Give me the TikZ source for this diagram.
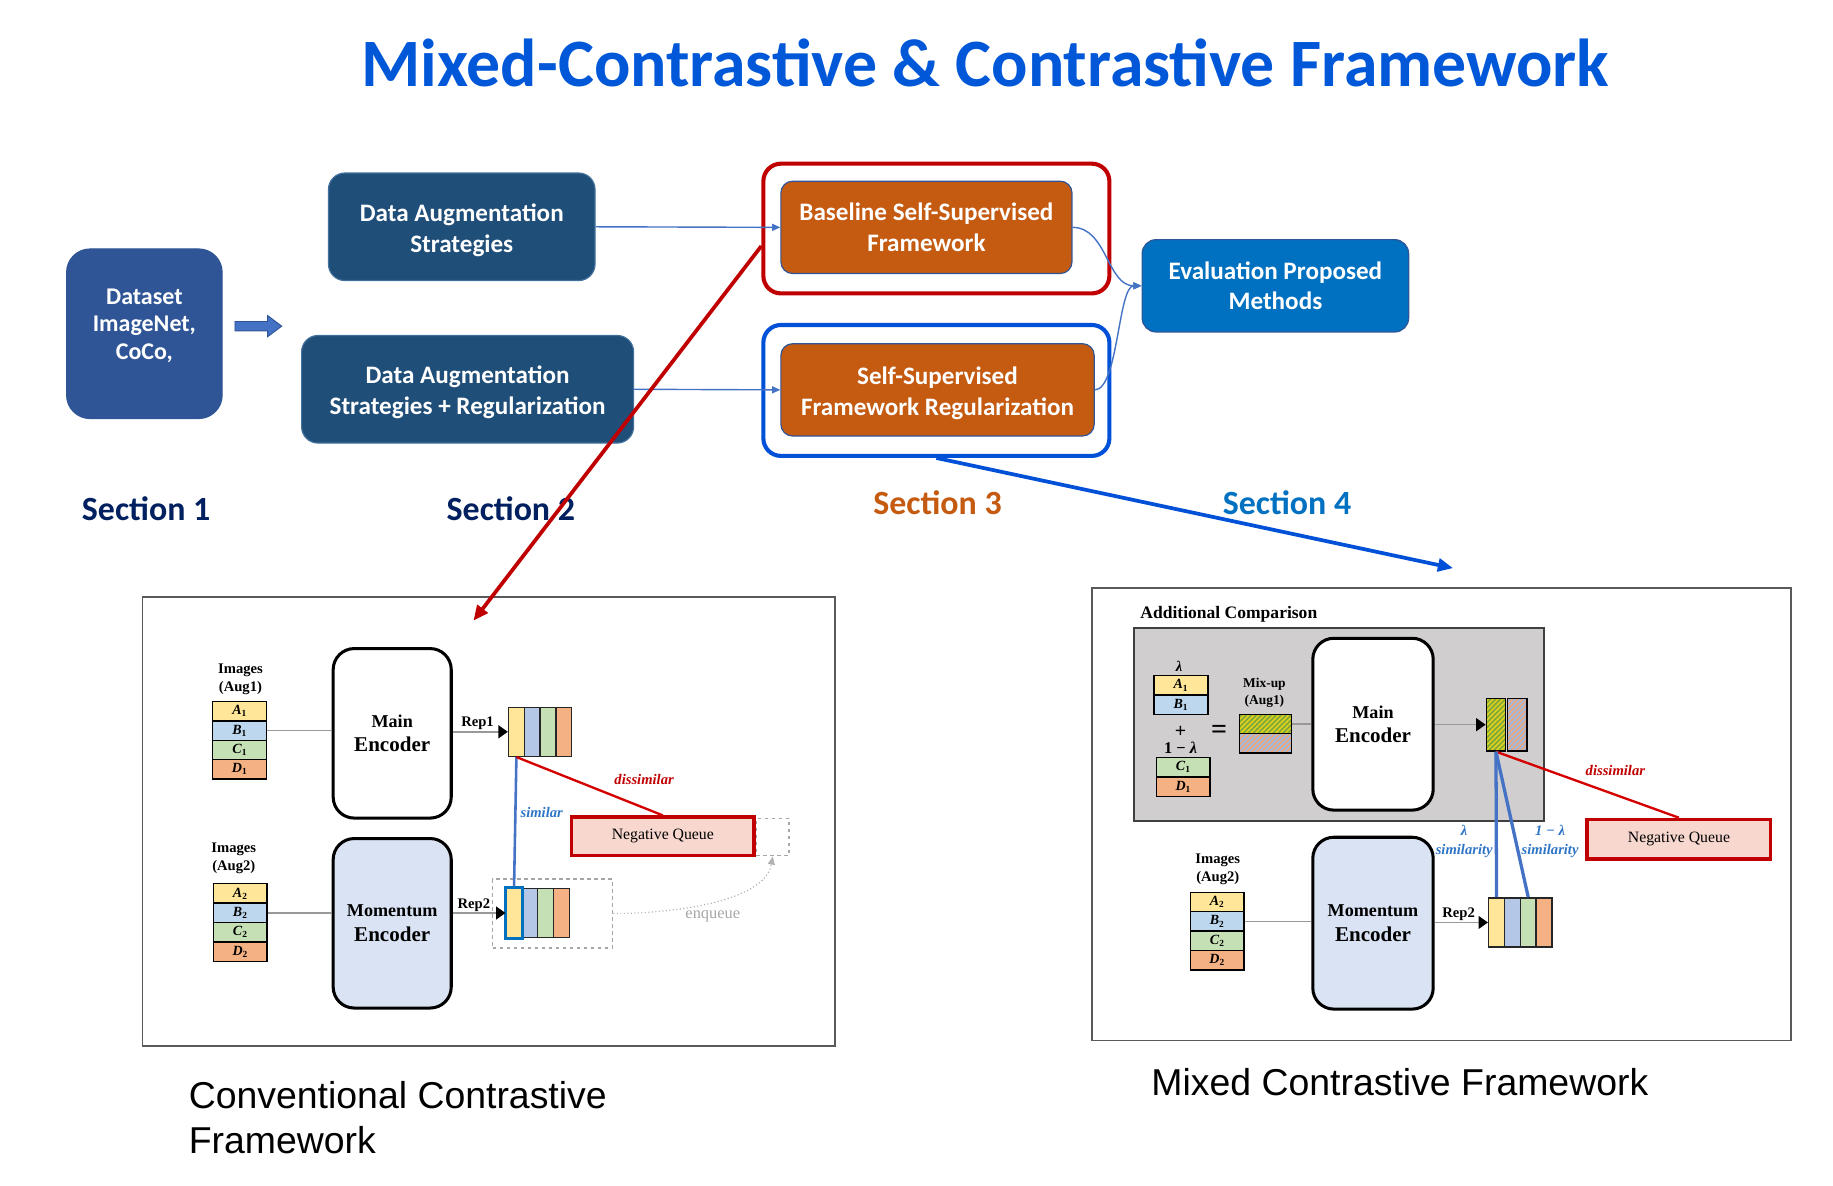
\documentclass[tikz,border=0pt]{standalone}
\usepackage{fontspec}
\usepackage{tikz}
\usetikzlibrary{arrows.meta,patterns.meta,positioning}
\newfontfamily\calib{Carlito}
\newfontfamily\timesf{Liberation Serif}
\newfontfamily\arialf{Liberation Sans}
\definecolor{titleblue}{HTML}{0057D8}
\definecolor{datasetblue}{HTML}{2F5597}
\definecolor{danavy}{HTML}{1F4E79}
\definecolor{boxline}{HTML}{41719C}
\definecolor{boxorange}{HTML}{C55A11}
\definecolor{evalblue}{HTML}{0070C0}
\definecolor{secnavy}{HTML}{002060}
\definecolor{framered}{HTML}{C00000}
\definecolor{frameblue}{HTML}{0050D8}
\definecolor{linkblue}{HTML}{4472C4}
\definecolor{simblue}{HTML}{2E75C6}
\definecolor{disred}{HTML}{D40000}
\definecolor{cellyellow}{HTML}{FFE699}
\definecolor{cellblue}{HTML}{BDD7EE}
\definecolor{vecblue}{HTML}{B4C7E7}
\definecolor{cellgreen}{HTML}{C5E0B4}
\definecolor{cellorange}{HTML}{F4B183}
\definecolor{momblue}{HTML}{DAE3F3}
\definecolor{negpink}{HTML}{F8D7CF}
\definecolor{panelgray}{HTML}{D0CECE}
\definecolor{hatchgreen}{HTML}{7FA83A}
\definecolor{hatchyellow}{HTML}{E3D21C}
\definecolor{hatchblue}{HTML}{9FB8E0}
\definecolor{hatchorange}{HTML}{F0A878}
\newcommand{\boxfont}{\calib\bfseries\fontsize{21.5}{26.3}\selectfont}
\newcommand{\secfont}{\calib\bfseries\fontsize{29}{34}\selectfont}
\newcommand{\capfont}{\arialf\fontsize{32}{38}\selectfont}
\newcommand{\encfont}{\timesf\bfseries\fontsize{18}{21}\selectfont}
\newcommand{\encsmall}{\fontsize{15.5}{21}\selectfont}
\newcommand{\figfont}{\timesf\bfseries\fontsize{12.5}{15.7}\selectfont}
\newcommand{\tstrut}{\rule{0pt}{20.5pt}}
% stack of image cells: name, x, top y, subscript, letter/colour list
\newcommand{\cellstack}[5]{%
  \foreach \lt/\col [count=\i] in {#5}{
    \node[imgcell, fill=\col] (#1\lt) at (#2, {#3+(\i-0.5)*16.6}) {\textit{\lt}\textsubscript{#4}};
  }}
% representation vector: name, left x, centre y, colour list, strip width
\newcommand{\repvec}[5]{%
  \foreach \col [count=\i] in {#4}{
    \node[vecstrip, fill=\col, minimum width=#5pt] (#1\i) at ({#2+(\i-0.5)*#5}, #3) {};
  }}

\begin{document}
\begin{tikzpicture}[x=1pt,y=-1pt,
  navybox/.style={rounded corners=14pt, fill=danavy, draw=boxline, line width=1pt, text=white, font=\boxfont, align=center},
  orangebox/.style={rounded corners=10pt, fill=boxorange, draw=datasetblue, line width=1pt, text=white, font=\boxfont, align=center, minimum height=79pt},
  outline/.style={rounded corners=15pt, line width=3.5pt, minimum width=296pt, minimum height=111pt},
  seclabel/.style={font=\secfont},
  thinlink/.style={draw=linkblue, line width=1.2pt, -{Triangle[length=7pt,width=6pt]}},
  bigarrow/.style={line width=3.2pt, -{Triangle[length=13pt,width=11pt]}},
  figframe/.style={draw=black!65, line width=1.5pt},
  figlabel/.style={font=\figfont, align=center},
  imgcell/.style={draw=black, line width=1.2pt, minimum width=46pt, minimum height=16.6pt, inner sep=0pt, font=\timesf\bfseries\fontsize{12}{14}\selectfont},
  vecstrip/.style={draw=black!85, line width=1.2pt, minimum height=42pt, inner sep=0pt},
  encoder/.style={draw=black, line width=2.6pt, rounded corners=18pt, minimum width=101pt, minimum height=145pt, font=\encfont, align=center},
  feedline/.style={draw=black!40, line width=1.2pt},
  reparrow/.style={feedline, -{Triangle[length=8pt,width=11pt,color=black]}},
  replabel/.style={font=\timesf\bfseries\fontsize{12.5}{15}\selectfont, inner sep=1pt},
  simline/.style={draw=linkblue, line width=2.2pt},
  disline/.style={draw=disred, line width=2pt},
  simtext/.style={font=\timesf\bfseries\itshape\fontsize{12.5}{16.5}\selectfont, text=simblue, align=center},
  distext/.style={font=\timesf\bfseries\itshape\fontsize{12.5}{15}\selectfont, text=framered},
  negbox/.style={draw=framered, line width=3pt, fill=negpink, font=\timesf\fontsize{13.5}{16}\selectfont},
  slotbox/.style={draw=black!35, dashed, line width=1.2pt},
  greenhatch/.style={preaction={fill=hatchgreen}, pattern={Lines[angle=45,distance=3pt,line width=1.3pt]}, pattern color=hatchyellow, draw=black, line width=1.2pt, inner sep=0pt},
  bluehatch/.style={preaction={fill=hatchblue}, pattern={Lines[angle=45,distance=3pt,line width=1.3pt]}, pattern color=hatchorange, draw=black, line width=1.2pt, inner sep=0pt}
  ]
  \useasboundingbox (0,0) rectangle (1568,1014);
  %\draw[help lines] (0,0) grid (1568,1014);

  \node[font=\calib\bfseries\fontsize{58}{64}\selectfont, text=titleblue] (title) at (843,54) {Mixed-Contrastive \& Contrastive Framework};

  % top flow
  \node[navybox, fill=datasetblue, draw=datasetblue, rounded corners=20pt, minimum width=133pt, minimum height=145pt,
        font=\calib\bfseries\fontsize{20.5}{23.7}\selectfont] (dataset) at (123.5,285.5) {\tstrut Dataset\\ImageNet,\\CoCo,\\~};
  \filldraw[fill=linkblue, draw=datasetblue, line width=0.8pt] (201,275) -- (229,275) -- (229,270) -- (241,279) -- (229,288) -- (229,283) -- (201,283) -- cycle;
  \node[navybox, minimum width=228pt, minimum height=92pt] (dastrat) at (395,194) {\tstrut Data Augmentation\\Strategies};
  \node[navybox, minimum width=284pt, minimum height=92pt] (dareg) at (400,333) {\tstrut Data Augmentation\\Strategies + Regularization};

  \node[outline, draw=framered] (redframe) at (801,195.5) {};
  \node[outline, draw=frameblue, minimum height=112pt] (blueframe) at (801,334) {};
  \node[orangebox, minimum width=249pt] (baseline) at (792.5,194.5) {Baseline Self-Supervised\\Framework};
  \node[orangebox, minimum width=268pt] (ssfr) at (802,333.5) {\tstrut Self-Supervised\\Framework Regularization};
  \node[navybox, fill=evalblue, draw=datasetblue, rounded corners=12pt, minimum width=228pt, minimum height=79pt] (eval) at (1091,244.5) {Evaluation Proposed\\Methods};

  \node[seclabel, text=secnavy] (sec1) at (125,435) {Section 1};
  \node[seclabel, text=secnavy] (sec2) at (437,435) {Section 2};
  \node[seclabel, text=boxorange] (sec3) at (802,430) {Section 3};
  \node[seclabel, text=evalblue] (sec4) at (1101,430) {Section 4};

  \draw[thinlink] (dastrat.east) -- (baseline.west);
  \draw[thinlink] (dareg.east) -- (ssfr.west);
  \draw[thinlink] (baseline.east) .. controls (947,194.5) and (947,244.5) .. (eval.west);
  \draw[thinlink] (ssfr.east) .. controls (956.5,333.5) and (956.5,244.5) .. (eval.west);

  \coordinate (convtip) at (405,531);
  \coordinate (mixtip) at (1243,486);

  % conventional contrastive framework
  \node[figframe, minimum width=592pt, minimum height=384pt] (convframe) at (418,703) {};
  \node[figlabel] (imgaugA) at (205.7,581) {Images\\(Aug1)};
  \cellstack{sa}{205}{600}{1}{A/cellyellow,B/cellblue,C/cellgreen,D/cellorange}
  \node[encoder, fill=white] (mainenc) at (335.5,627.3) {{\encsmall Main}\\Encoder};
  \repvec{ra}{435}{626}{cellyellow,vecblue,cellgreen,cellorange}{13.5}
  \node[figlabel] (imgaugB) at (200,734.3) {Images\\(Aug2)};
  \cellstack{sb}{205.5}{756}{2}{A/cellyellow,B/cellblue,C/cellgreen,D/cellorange}
  \node[encoder, fill=momblue] (moment) at (335.5,789.8) {{\encsmall Momentum}\\Encoder};
  \repvec{rb}{433}{781}{cellyellow,vecblue,cellgreen,cellorange}{13.5}
  \node[draw=evalblue, line width=2.6pt, minimum width=14pt, minimum height=43pt, inner sep=0pt] (rbmark) at (rb1) {};
  \node[slotbox, minimum width=102.5pt, minimum height=59pt] (rbbox) at (472.75,781.5) {};
  \node[negbox, minimum width=156pt, minimum height=33pt] (negq) at (567,715.5) {Negative Queue};
  \node[slotbox, minimum width=28pt, minimum height=32pt] (qslot) at (661,716) {};

  \draw[feedline] (saB.east) -- (saB.east -| mainenc.west);
  \draw[feedline] (sbB.east) -- (sbB.east -| moment.west);
  \draw[reparrow] (mainenc.east |- ra1.west) -- node[replabel, above, pos=0.45] (repA) {Rep1} (ra1.west);
  \draw[reparrow] (moment.east |- rb1.west) -- node[replabel, above, pos=0.4] (repB) {Rep2} (rb1.west);
  \draw[simline] (ra1.south) -- node[simtext, right, pos=0.43] (simlbl) {similar} (rbmark.north);
  \draw[disline] (ra1.south) -- (negq.north);
  \node[distext] (dislbl) at (551,666.7) {dissimilar};
  \draw[draw=black!30, line width=1pt, dotted, -{Triangle[length=7pt,width=6pt]}] (rbbox.east) .. controls (590,781) and (655,768) .. (qslot.south);
  \node[font=\timesf\fontsize{14}{16}\selectfont, text=black!35] (enq) at (609.7,783.5) {enqueue};

  % mixed contrastive framework
  \node[figframe, minimum width=598pt, minimum height=387pt] (mixframe) at (1233,696.5) {};
  \node[anchor=west, font=\timesf\bfseries\fontsize{15}{18}\selectfont] (addcmp) at (972,525.5) {Additional Comparison};
  \node[draw=black!75, line width=1.5pt, fill=panelgray, minimum width=351pt, minimum height=165pt] (panel) at (1145.5,620) {};
  \node[figlabel] (lamA) at (1008.7,570.3) {\textit{λ}};
  \cellstack{sc}{1010.2}{578}{1}{A/cellyellow,B/cellblue}
  \node[font=\timesf\bfseries\fontsize{17}{18}\selectfont] (plus) at (1009.9,625.9) {+};
  \node[figlabel, font=\timesf\bfseries\fontsize{14}{16}\selectfont] (lamB) at (1009.9,640) {1 − \textit{λ}};
  \cellstack{sd}{1012.2}{648}{1}{C/cellgreen,D/cellorange}
  \node[font=\timesf\bfseries\fontsize{24}{24}\selectfont] (equal) at (1042.8,626) {=};
  \node[figlabel, font=\timesf\bfseries\fontsize{11.5}{14.6}\selectfont] (mixlbl) at (1081.6,592.3) {Mix-up\\(Aug1)};
  \node[greenhatch, minimum width=44.5pt, minimum height=16.5pt] (mixtop) at (1082.5,619.25) {};
  \node[bluehatch, minimum width=44.5pt, minimum height=16.5pt] (mixbot) at (1082.5,635.75) {};
  \node[encoder, fill=white, minimum width=103pt, minimum height=147pt] (mainencB) at (1174.5,619.5) {{\encsmall Main}\\Encoder};
  \node[greenhatch, minimum width=16.6pt, minimum height=45pt] (mv1) at (1279.7,619.9) {};
  \node[bluehatch, minimum width=16.6pt, minimum height=45pt] (mv2) at (1298,619.9) {};
  \node[negbox, minimum width=157pt, minimum height=34pt] (negqB) at (1436.2,718) {Negative Queue};
  \node[figlabel] (imgaugC) at (1041.7,743.5) {Images\\(Aug2)};
  \cellstack{se}{1041.2}{763.3}{2}{A/cellyellow,B/cellblue,C/cellgreen,D/cellorange}
  \node[encoder, fill=momblue, minimum width=103pt, minimum height=147pt] (momentB) at (1174.5,789.7) {{\encsmall Momentum}\\Encoder};
  \repvec{rc}{1273.4}{789.1}{cellyellow,vecblue,cellgreen,cellorange}{13.55}

  \draw[feedline] (mixtop.east) -- (mixtop.east -| mainencB.west);
  \draw[feedline] (seB.east) -- (seB.east -| momentB.west);
  \draw[reparrow] (mainencB.east |- mv1.west) -- (mv1.west);
  \draw[reparrow] (momentB.east |- rc1.west) -- node[replabel, above, pos=0.45] (repC) {Rep2} (rc1.west);
  \draw[disline] (mv1.south) -- (negqB.north);
  \node[distext] (dislblB) at (1381.8,658.7) {dissimilar};
  \draw[simline, line width=2.8pt] (mv1.south) -- (rc1.north);
  \draw[simline, line width=2.8pt] (mv1.south) -- (rc3.north);
  \node[simtext] (simA) at (1252.5,720) {λ\\similarity};
  \node[simtext] (simB) at (1326,720) {1 − λ\\similarity};

  % big arrows between parts
  \draw[bigarrow, framered] ([yshift=-15pt]redframe.west) -- (convtip);
  \draw[bigarrow, frameblue] (blueframe.south) -- (mixtip);

  \node[font=\capfont, align=left, anchor=west] (capA) at (158,956) {Conventional Contrastive\\Framework};
  \node[font=\capfont] (capB) at (1197.5,926) {Mixed Contrastive Framework};
\end{tikzpicture}
\end{document}
